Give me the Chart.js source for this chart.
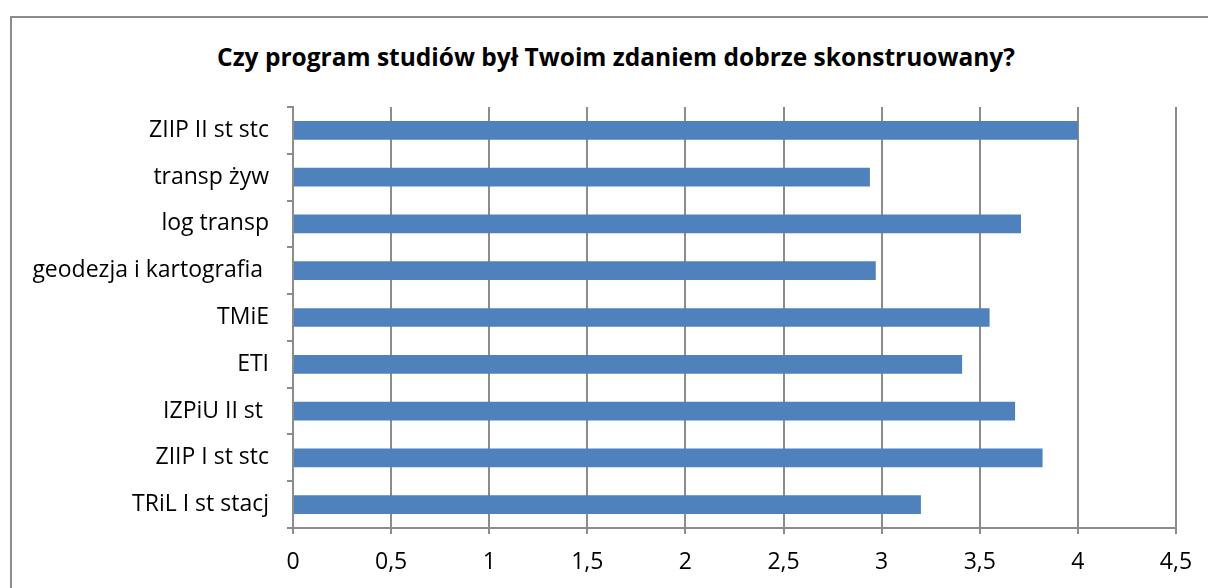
<!DOCTYPE html>
<html lang="pl">
<head>
<meta charset="utf-8">
<title>Czy program studiów był Twoim zdaniem dobrze skonstruowany?</title>
<script src="https://cdn.jsdelivr.net/npm/chart.js@4/dist/chart.umd.min.js"></script>
<style>
  html, body { margin: 0; padding: 0; background: #fff; overflow: hidden; }
  #wrap { position: relative; width: 1208px; height: 588px; overflow: hidden; }
  #frame {
    position: absolute; left: 10px; top: 16px; width: 1250px; height: 640px;
    border-left: 2px solid #8c8c8c; border-top: 2px solid #8c8c8c;
  }
  #title {
    position: absolute; left: 0; top: 40px; width: 1232px; text-align: center;
    font: bold 24.5px "Open Sans", sans-serif; color: #000;
  }
  #chart { position: absolute; left: 0; top: 0; }
</style>
</head>
<body>
<div id="wrap">
  <div id="frame"></div>
  <div id="title">Czy program studiów był Twoim zdaniem dobrze skonstruowany?</div>
  <canvas id="chart" width="1208" height="588"></canvas>
</div>
<script>
// categories, top to bottom as shown
const categories = [
  'ZIIP II st stc',
  'transp żyw',
  'log transp',
  'geodezja i kartografia ',
  'TMiE',
  'ETI',
  'IZPiU II st ',
  'ZIIP I st stc',
  'TRiL I st stacj'
];
const scores = [4.00, 2.94, 3.71, 2.97, 3.55, 3.41, 3.68, 3.82, 3.20];
const xTicks = [0, 0.5, 1, 1.5, 2, 2.5, 3, 3.5, 4, 4.5];

const GRID = '#8c8c8c';
const FONT = { family: '"Open Sans", sans-serif', size: 23 };

function plNum(v){ return String(v).replace('.', ','); }

new Chart(document.getElementById('chart'), {
  type: 'bar',
  data: {
    labels: categories,
    datasets: [{
      data: scores,
      backgroundColor: '#4f81bd',
      borderWidth: 0,
      barPercentage: 0.4,
      categoryPercentage: 1
    }]
  },
  options: {
    indexAxis: 'y',
    responsive: false,
    animation: false,
    layout: { padding: { left: 12, right: 32, top: 107, bottom: 0 } },
    plugins: { legend: { display: false }, tooltip: { enabled: false }, title: { display: false } },
    scales: {
      x: {
        min: xTicks[0],
        max: xTicks[xTicks.length - 1],
        afterBuildTicks: s => { s.ticks = xTicks.map(v => ({ value: v })); },
        // tall box so labels are not clipped; keeps the axis line at y≈528
        afterFit: s => { s.height = 60; },
        ticks: { font: FONT, color: '#000', padding: 15, callback: v => plNum(v) },
        grid: { color: GRID, lineWidth: 2, tickLength: 6 },
        border: { color: GRID, width: 2 }
      },
      y: {
        afterFit: s => { s.width = 281; },
        ticks: { font: FONT, color: '#000', padding: 18 },
        grid: { drawOnChartArea: false, color: GRID, lineWidth: 2, tickLength: 6 },
        border: { color: GRID, width: 2 }
      }
    }
  }
});
</script>
</body>
</html>
